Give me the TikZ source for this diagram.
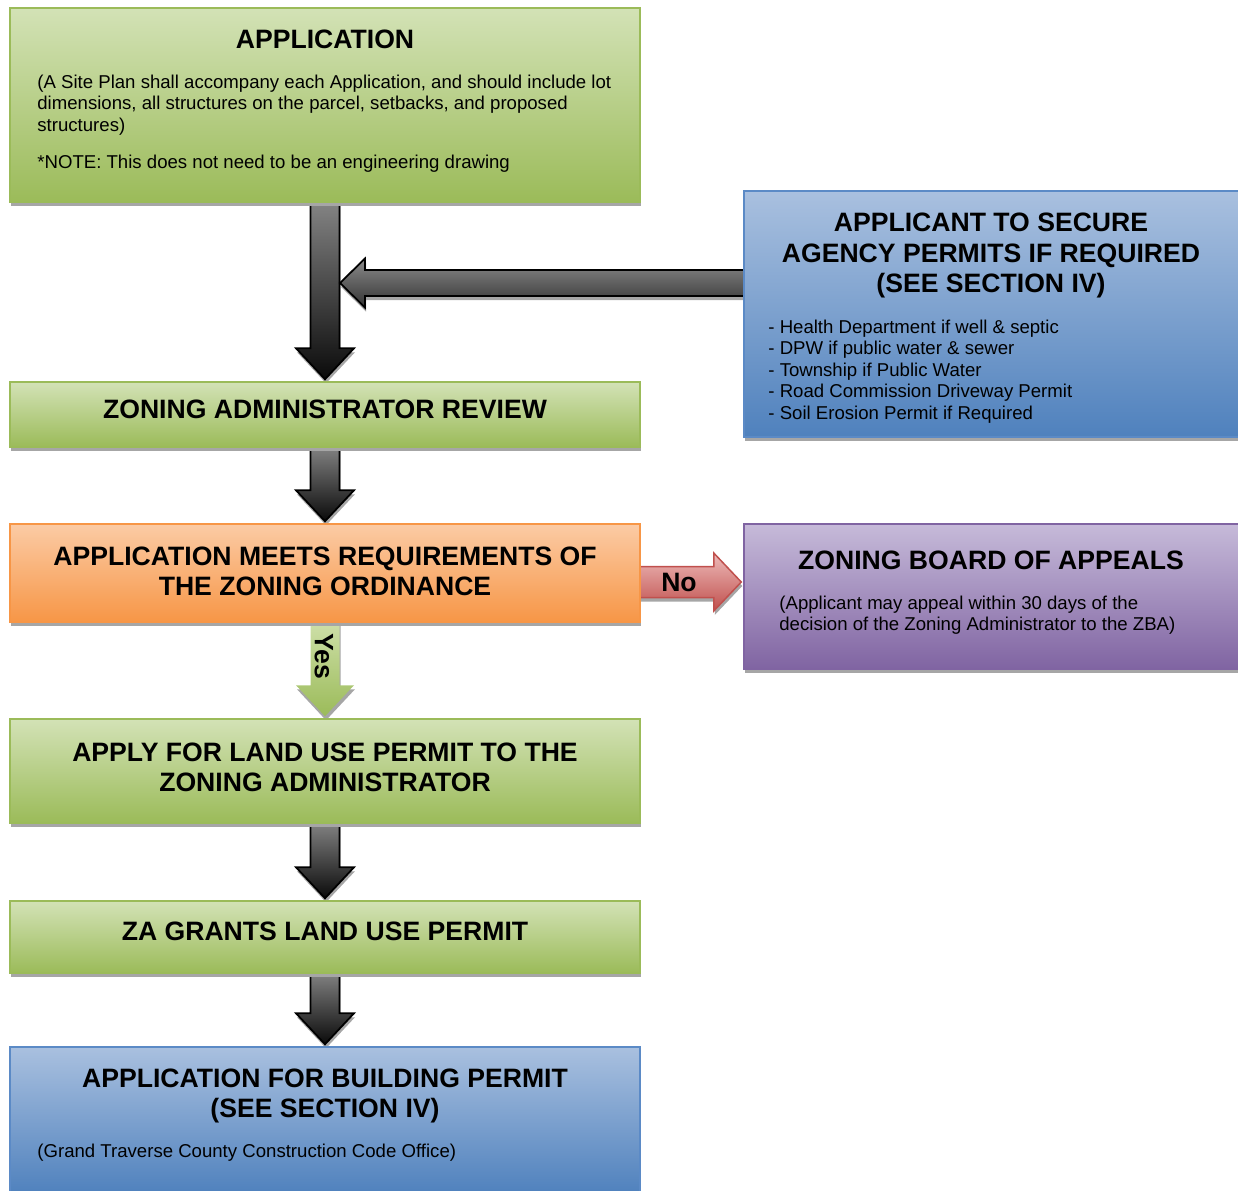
\documentclass[tikz,border=0pt]{standalone}
\usepackage{fontspec}
\setmainfont{Liberation Sans}
\usetikzlibrary{calc,shadows,backgrounds}
\definecolor{gtop}{HTML}{D3E2B6}
\definecolor{gbot}{HTML}{9BBB59}
\definecolor{btop}{HTML}{A9C0DF}
\definecolor{bbot}{HTML}{4F81BD}
\definecolor{bborder}{HTML}{5B8AC6}
\definecolor{otop}{HTML}{FBCBA5}
\definecolor{obot}{HTML}{F79646}
\definecolor{ptop}{HTML}{C6BAD9}
\definecolor{pbot}{HTML}{8064A2}
\definecolor{rtop}{HTML}{EDBAB9}
\definecolor{rbot}{HTML}{C0504D}
\definecolor{shadowc}{HTML}{A6A6A6}
\definecolor{agray}{HTML}{858585}
\definecolor{ablack}{HTML}{0A0A0A}
\definecolor{ytop}{HTML}{CFE0AA}
\definecolor{ybot}{HTML}{9BBB59}
\newcommand\vblock[3]{%
  \path[#3] ($(#1)+(-14.5,-3)$) -- ($(#2)+(-14.5,-33)$) -- ($(#2)+(-29,-33)$)
    -- ($(#2)+(0,-2)$) -- ($(#2)+(29,-33)$) -- ($(#2)+(14.5,-33)$)
    -- ($(#1)+(14.5,-3)$) -- cycle;}
\begin{document}
\begin{tikzpicture}[x=0.5pt,y=-0.5pt,
  shad/.style={drop shadow={shadow xshift=0.5pt,shadow yshift=-2pt,fill=shadowc,opacity=1}},
  box/.style={rectangle, inner sep=0, line width=0.75pt, shad},
  greenbox/.style={box, draw=gbot, top color=gtop, bottom color=gbot},
  bluebox/.style={box, draw=bborder, top color=btop, bottom color=bbot},
  orangebox/.style={box, draw=obot, top color=otop, bottom color=obot},
  purplebox/.style={box, draw=pbot, top color=ptop, bottom color=pbot},
  title/.style={font=\fontsize{13.3}{15.25}\selectfont\bfseries, align=center, inner sep=0},
  body/.style={font=\fontsize{9.3}{10.75}\selectfont, align=left, inner sep=0, anchor=north west},
  darkarrow/.style={top color=agray, bottom color=ablack, draw=black, line width=0.9pt, shad},
  darkarrowh/.style={top color=agray!95, bottom color=black!80, draw=black, line width=0.9pt, shad},
  yesarrow/.style={top color=ytop, bottom color=ybot, shad},
  noarrow/.style={top color=rtop, bottom color=rbot, draw=rbot, line width=0.75pt, shad},
]
\useasboundingbox (0,0) rectangle (1238,1190);

% boxes
\node[greenbox, minimum width=315pt, minimum height=97pt] (app) at (325,105) {};
\node[bluebox, minimum width=249pt, minimum height=123pt] (agency) at (993,314) {};
\node[greenbox, minimum width=315pt, minimum height=32.5pt] (zar) at (325,414.5) {};
\node[orangebox, minimum width=315pt, minimum height=49pt] (meets) at (325,573) {};
\node[purplebox, minimum width=249pt, minimum height=72.5pt] (zba) at (993,596.5) {};
\node[greenbox, minimum width=315pt, minimum height=52pt] (apply) at (325,771) {};
\node[greenbox, minimum width=315pt, minimum height=36pt] (grants) at (325,937) {};
\node[bluebox, minimum width=315pt, minimum height=73.5pt] (bldg) at (325,1120.5) {};

% arrows
\coordinate (merge) at (340,283);
\coordinate (nostart) at ($(meets.east)+(-4,9)$);
\begin{scope}[on background layer]
  \vblock{app.south}{zar.north}{darkarrow}
  \path[darkarrowh] (merge) -- ($(merge)+(25,-24.5)$) -- ($(merge)+(25,-13)$)
     -- ($(agency.west|-merge)+(5,-13)$) -- ($(agency.west|-merge)+(5,13)$)
     -- ($(merge)+(25,13)$) -- ($(merge)+(25,24.5)$) -- cycle;
  \vblock{zar.south}{meets.north}{darkarrow}
  \vblock{meets.south}{apply.north}{yesarrow}
  \vblock{apply.south}{grants.north}{darkarrow}
  \vblock{grants.south}{bldg.north}{darkarrow}
  \path[noarrow] ($(nostart)+(0,-15.5)$) -- ($(nostart)+(77,-15.5)$) -- ($(nostart)+(77,-29)$)
     -- ($(zba.west|-nostart)+(-2,0)$) -- ($(nostart)+(77,29)$) -- ($(nostart)+(77,15.5)$)
     -- ($(nostart)+(0,15.5)$) -- cycle;
\end{scope}

% texts
\node[title] (appt) at (325,39) {APPLICATION};
\node[body] (appb) at (37,74.5) {(A Site Plan shall accompany each Application, and should include lot\\
dimensions, all structures on the parcel, setbacks, and proposed\\
structures)\\[7.75pt]
*NOTE: This does not need to be an engineering drawing};

\node[title] (agt) at (991,255.5) {APPLICANT TO SECURE\\AGENCY PERMITS IF REQUIRED\\(SEE SECTION IV)};
\node[body] (agb) at (768,319.5) {- Health Department if well \& septic\\
- DPW if public water \& sewer\\
- Township if Public Water\\
- Road Commission Driveway Permit\\
- Soil Erosion Permit if Required};

\node[title] (zart) at (325,409) {ZONING ADMINISTRATOR REVIEW};
\node[title] (meetst) at (325,571.5) {APPLICATION MEETS REQUIREMENTS OF\\THE ZONING ORDINANCE};
\node[title] (nolab) at (679,582) {No};
\node[title, rotate=-90] (yeslab) at (324,656) {Yes};

\node[title] (zbat) at (991,560) {ZONING BOARD OF APPEALS};
\node[body] (zbab) at (779,595.5) {(Applicant may appeal within 30 days of the\\
decision of the Zoning Administrator to the ZBA)};

\node[title] (applyt) at (325,767.5) {APPLY FOR LAND USE PERMIT TO THE\\ZONING ADMINISTRATOR};
\node[title] (grantst) at (325,931) {ZA GRANTS LAND USE PERMIT};
\node[title] (bldgt) at (325,1096) {APPLICATION FOR BUILDING PERMIT\\(SEE SECTION IV)};
\node[body] (bldgb) at (37,1143.5) {(Grand Traverse County Construction Code Office)};
\end{tikzpicture}
\end{document}
